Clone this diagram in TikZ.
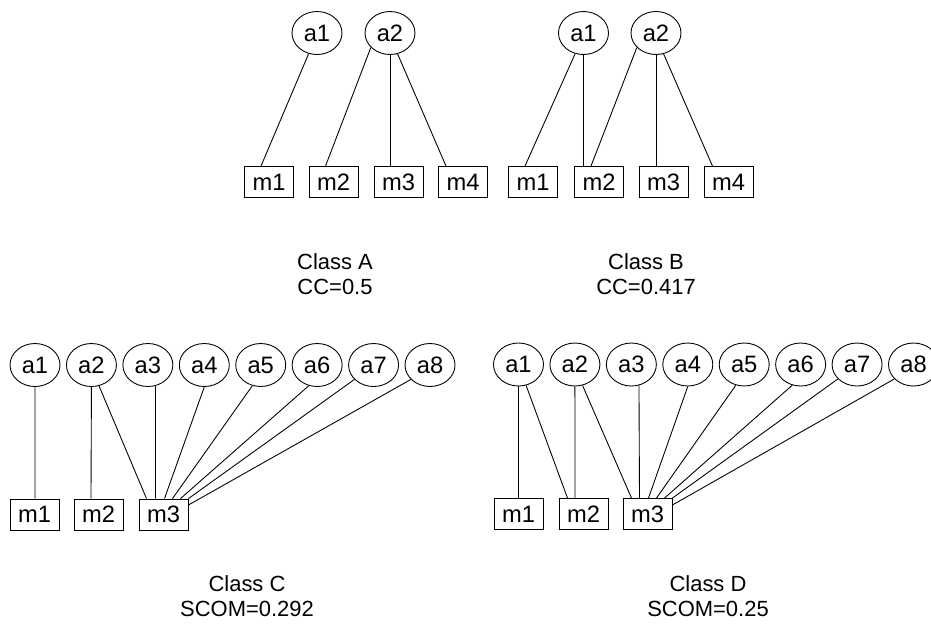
\documentclass[tikz,border=0pt]{standalone}
\usepackage{fontspec}
\setmainfont{Liberation Sans}
\usetikzlibrary{shapes.geometric, calc}

\begin{document}
\begin{tikzpicture}[x=0.02cm, y=-0.02cm, line width=0.5pt,
    attr/.style={draw, ellipse, minimum width=1cm, minimum height=0.86cm, inner sep=0pt, font=\fontsize{13.5}{16}\selectfont},
    meth/.style={draw, rectangle, minimum width=0.98cm, minimum height=0.62cm, inner sep=0pt, font=\fontsize{13.5}{16}\selectfont},
    caption/.style={align=center, font=\fontsize{12.5}{14.2}\selectfont}]
        \useasboundingbox (0, 0) rectangle (931, 627);

        % Class A
        \node[attr] (A-a1) at (317, 33) {a1};
        \node[attr] (A-a2) at (390, 33) {a2};
        \foreach \i/\x in {1/269, 2/333.5, 3/398.5, 4/463} {
            \node[meth] (A-m\i) at (\x, 182) {m\i};
        }
        \foreach \a/\p/\m/\dx in {1/248/1/-8, 2/217/2/-8, 2/270/3/-8.5, 2/290/4/-17} {
            \draw (A-a\a.\p) -- ($(A-m\m.north)+(\dx, 0)$);
        }
        \node[caption] (A-cap) at (335, 274.5) {Class A\\CC=0.5};

        % Class B
        \node[attr] (B-a1) at (583.5, 33) {a1};
        \node[attr] (B-a2) at (656, 33) {a2};
        \foreach \i/\x in {1/533, 2/599, 3/663.5, 4/728.5} {
            \node[meth] (B-m\i) at (\x, 182) {m\i};
        }
        \foreach \a/\p/\m/\dx in {1/248/1/-8, 1/270/2/-15.5, 2/217/2/-8, 2/270/3/-7.5, 2/290/4/-16} {
            \draw (B-a\a.\p) -- ($(B-m\m.north)+(\dx, 0)$);
        }
        \node[caption] (B-cap) at (646, 274.5) {Class B\\CC=0.417};

        % Class C
        \foreach \i in {1, ..., 8} {
            \node[attr] (C-a\i) at ({35 + 56.43*(\i-1)}, 365) {a\i};
        }
        \foreach \i/\x in {1/34.5, 2/98.5, 3/163.5} {
            \node[meth] (C-m\i) at (\x, 514.5) {m\i};
        }
        \foreach \a/\p/\m/\dx in {1/270/1/0.5, 2/270/2/-7.5, 2/290/3/-17, 3/290/3/-8, 4/270/3/1, 5/248/3/9, 6/248/3/17} {
            \draw (C-a\a.\p) -- ($(C-m\m.north)+(\dx, 0)$);
        }
        \draw (C-a7.217) -- (C-m3.north east);
        \draw (C-a8.217) -- ($(C-m3.east)+(0, -9.5)$);
        \node[caption] (C-cap) at (247, 596) {Class C\\SCOM=0.292};

        % Class D
        \foreach \i in {1, ..., 8} {
            \node[attr] (D-a\i) at ({518.5 + 56.43*(\i-1)}, 364.5) {a\i};
        }
        \foreach \i/\x in {1/518.5, 2/583.5, 3/647.5} {
            \node[meth] (D-m\i) at (\x, 514) {m\i};
        }
        \foreach \a/\p/\m/\dx in {1/270/1/0, 1/290/2/-16, 2/270/2/-8.5, 2/290/3/-16, 3/290/3/-8, 4/270/3/1, 5/248/3/9, 6/248/3/17} {
            \draw (D-a\a.\p) -- ($(D-m\m.north)+(\dx, 0)$);
        }
        \draw (D-a7.217) -- (D-m3.north east);
        \draw (D-a8.217) -- ($(D-m3.east)+(0, -9)$);
        \node[caption] (D-cap) at (708, 596) {Class D\\SCOM=0.25};
    \end{tikzpicture}
\end{document}
